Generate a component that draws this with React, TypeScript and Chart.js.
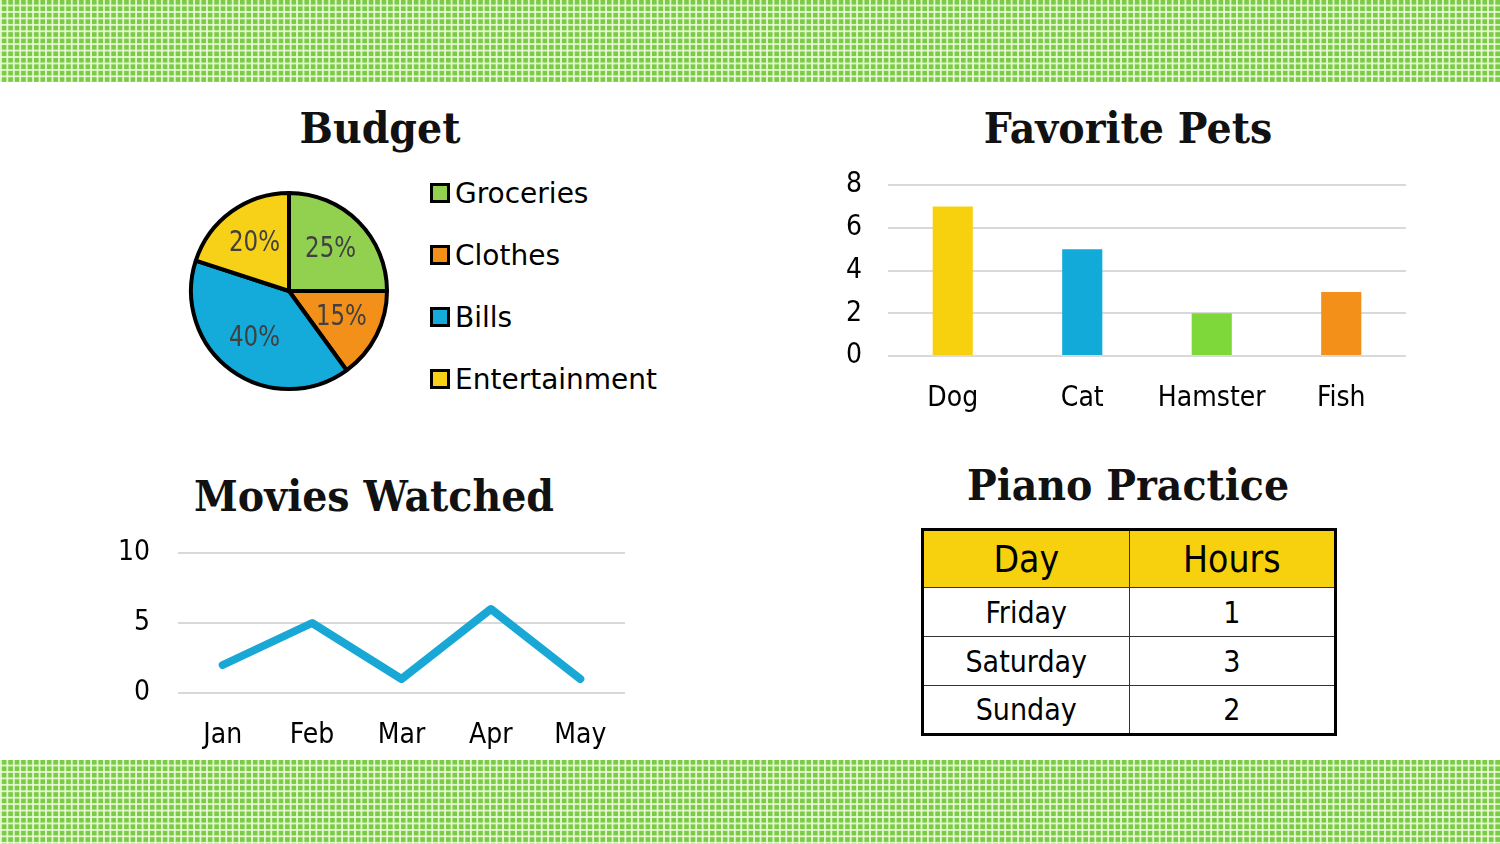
import React, { useEffect, useRef } from "react";
import { Chart, registerables } from "chart.js";

Chart.register(...registerables);

// ---- Data ----
const budgetLabels = ["Groceries", "Clothes", "Bills", "Entertainment"];
const budgetValues = [25, 15, 40, 20];
const budgetColors = ["#92D050", "#F39019", "#14AADA", "#F7D117"];

const petLabels = ["Dog", "Cat", "Hamster", "Fish"];
const petValues = [7, 5, 2, 3];
const petColors = ["#F7D10E", "#12AAD8", "#7ED83A", "#F39019"];

const movieMonths = ["Jan", "Feb", "Mar", "Apr", "May"];
const movieValues = [2, 5, 1, 6, 1];

const pianoHeaders = ["Day", "Hours"];
const pianoDays = ["Friday", "Saturday", "Sunday"];
const pianoHours = [1, 3, 2];

const BODY_FONT = "'DejaVu Sans Condensed', 'DejaVu Sans', sans-serif";
const LEGEND_FONT = "'DejaVu Sans', sans-serif";
const TITLE_FONT = "'DejaVu Serif', serif";

const pieLabelPlugin = {
  id: "pieLabels",
  afterDatasetsDraw(chart: any) {
    const ctx = chart.ctx;
    const meta = chart.getDatasetMeta(0);
    meta.data.forEach((arc: any, i: number) => {
      const mid = (arc.startAngle + arc.endAngle) / 2;
      const r = arc.outerRadius * 0.6;
      ctx.save();
      ctx.translate(arc.x + Math.cos(mid) * r, arc.y + Math.sin(mid) * r);
      ctx.scale(0.88, 1);
      ctx.font = `29px ${BODY_FONT}`;
      ctx.fillStyle = "#404040";
      ctx.textAlign = "center";
      ctx.textBaseline = "middle";
      ctx.fillText(budgetValues[i] + "%", 0, 0);
      ctx.restore();
    });
  },
};

function PieChart() {
  const ref = useRef<HTMLCanvasElement>(null);
  useEffect(() => {
    const chart = new Chart(ref.current!, {
      type: "pie",
      data: {
        labels: budgetLabels,
        datasets: [
          {
            data: budgetValues,
            backgroundColor: budgetColors,
            borderColor: "#000",
            borderWidth: 4,
            radius: 98,
          } as any,
        ],
      },
      options: {
        animation: false,
        responsive: false,
        layout: { padding: 0 },
        plugins: { legend: { display: false }, tooltip: { enabled: false } },
      },
      plugins: [pieLabelPlugin],
    });
    return () => chart.destroy();
  }, []);
  return (
    <canvas
      ref={ref}
      width={220}
      height={220}
      style={{ position: "absolute", left: 179, top: 181, width: 220, height: 220 }}
    />
  );
}

const tickFont = { family: BODY_FONT, size: 28 };

function BarChart() {
  const ref = useRef<HTMLCanvasElement>(null);
  useEffect(() => {
    const chart = new Chart(ref.current!, {
      type: "bar",
      data: {
        labels: petLabels,
        datasets: [
          {
            data: petValues,
            backgroundColor: petColors,
            categoryPercentage: 1,
            barPercentage: 0.31,
          },
        ],
      },
      options: {
        animation: false,
        responsive: false,
        layout: { padding: { top: 20, left: 0, right: 0, bottom: 0 } },
        plugins: { legend: { display: false }, tooltip: { enabled: false } },
        scales: {
          x: {
            grid: { display: false },
            border: { display: false },
            ticks: { color: "#000", font: tickFont, padding: 18 },
            afterFit: (s: any) => {
              s.height = 74;
              s.paddingLeft = 0;
              s.paddingRight = 0;
            },
          },
          y: {
            min: 0,
            max: 8,
            grid: { color: "#d9d9d9", lineWidth: 2, drawTicks: false },
            border: { display: false },
            ticks: { stepSize: 2, autoSkip: false, color: "#000", font: tickFont, padding: 26 },
            afterFit: (s: any) => {
              s.width = 68;
              s.paddingTop = 0;
              s.paddingBottom = 0;
            },
          },
        },
      },
    });
    return () => chart.destroy();
  }, []);
  return (
    <canvas
      ref={ref}
      width={586}
      height={265}
      style={{ position: "absolute", left: 820, top: 165, width: 586, height: 265 }}
    />
  );
}

function LineChart() {
  const ref = useRef<HTMLCanvasElement>(null);
  useEffect(() => {
    const chart = new Chart(ref.current!, {
      type: "line",
      data: {
        labels: movieMonths,
        datasets: [
          {
            data: movieValues,
            borderColor: "#19A8D6",
            borderWidth: 8,
            pointRadius: 0,
            borderCapStyle: "round",
            borderJoinStyle: "round",
            tension: 0,
          },
        ],
      },
      options: {
        animation: false,
        responsive: false,
        layout: { padding: { top: 23, left: 0, right: 0, bottom: 0 } },
        plugins: { legend: { display: false }, tooltip: { enabled: false } },
        scales: {
          x: {
            offset: true,
            grid: { display: false },
            border: { display: false },
            ticks: { color: "#000", font: tickFont, padding: 18 },
            afterFit: (s: any) => {
              s.height = 70;
              s.paddingLeft = 0;
              s.paddingRight = 0;
            },
          },
          y: {
            min: 0,
            max: 10,
            grid: { color: "#d9d9d9", lineWidth: 2, drawTicks: false },
            border: { display: false },
            ticks: { stepSize: 5, autoSkip: false, color: "#000", font: tickFont, padding: 28 },
            afterFit: (s: any) => {
              s.width = 78;
              s.paddingTop = 0;
              s.paddingBottom = 0;
            },
          },
        },
      },
    });
    return () => chart.destroy();
  }, []);
  return (
    <canvas
      ref={ref}
      width={525}
      height={233}
      style={{ position: "absolute", left: 100, top: 530, width: 525, height: 233 }}
    />
  );
}

const bandStyle: React.CSSProperties = {
  position: "absolute",
  left: 0,
  width: 1500,
  backgroundColor: "#7ccb45",
  backgroundImage:
    "linear-gradient(90deg, rgba(235,250,220,0.9) 1.4px, transparent 1.4px), linear-gradient(0deg, rgba(235,250,220,0.9) 1.4px, transparent 1.4px)",
  backgroundSize: "6.45px 6.45px",
};

function Title({ text, cx, cy }: { text: string; cx: number; cy: number }) {
  return (
    <div
      style={{
        position: "absolute",
        left: cx - 300,
        top: cy - 30,
        width: 600,
        height: 60,
        lineHeight: "60px",
        textAlign: "center",
        fontFamily: TITLE_FONT,
        fontWeight: "bold",
        fontSize: 43,
        color: "#111",
        whiteSpace: "nowrap",
        transform: "scaleX(0.92)",
      }}
    >
      {text}
    </div>
  );
}

export default function App() {
  const cellBorder = "1.5px solid #333";
  return (
    <div
      style={{
        position: "absolute",
        left: 0,
        top: 0,
        width: 1500,
        height: 844,
        background: "#fff",
        overflow: "hidden",
        fontFamily: BODY_FONT,
      }}
    >
      <div style={{ ...bandStyle, top: 0, height: 82 }} />
      <div style={{ ...bandStyle, top: 760, height: 84 }} />

      <Title text="Budget" cx={380} cy={128} />
      <Title text="Favorite Pets" cx={1128} cy={128} />
      <Title text="Movies Watched" cx={374} cy={496} />
      <Title text="Piano Practice" cx={1128} cy={485} />

      <PieChart />
      {budgetLabels.map((lab, i) => (
        <div
          key={lab}
          style={{
            position: "absolute",
            left: 430,
            top: 193 + i * 62 - 20,
            height: 40,
            display: "flex",
            alignItems: "center",
            fontFamily: LEGEND_FONT,
            fontSize: 28,
            color: "#000",
            whiteSpace: "nowrap",
          }}
        >
          <span
            style={{
              display: "inline-block",
              width: 14,
              height: 14,
              border: "3px solid #000",
              background: budgetColors[i],
              marginRight: 5,
            }}
          />
          {lab}
        </div>
      ))}

      <BarChart />
      <LineChart />

      <table
        style={{
          position: "absolute",
          left: 921,
          top: 528,
          width: 416,
          height: 206,
          borderCollapse: "collapse",
          border: "3px solid #000",
          fontFamily: BODY_FONT,
          color: "#000",
          tableLayout: "fixed",
        }}
      >
        <thead>
          <tr style={{ height: 58, background: "#F7D10E" }}>
            {pianoHeaders.map((h) => (
              <th key={h} style={{ fontSize: 37, fontWeight: "normal", border: cellBorder, padding: 0 }}>
                {h}
              </th>
            ))}
          </tr>
        </thead>
        <tbody>
          {pianoDays.map((d, i) => (
            <tr key={d} style={{ height: 49 }}>
              <td style={{ fontSize: 30, textAlign: "center", border: cellBorder, padding: 0 }}>{d}</td>
              <td style={{ fontSize: 30, textAlign: "center", border: cellBorder, padding: 0 }}>{pianoHours[i]}</td>
            </tr>
          ))}
        </tbody>
      </table>
    </div>
  );
}
